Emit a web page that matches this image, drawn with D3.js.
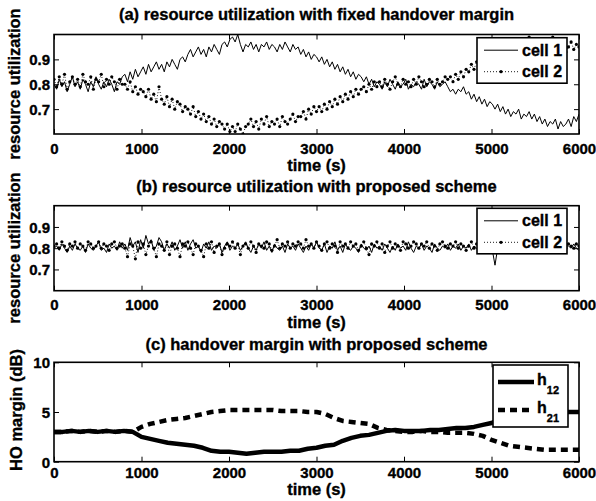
<!DOCTYPE html>
<html>
<head>
<meta charset="utf-8">
<script src="https://cdn.jsdelivr.net/npm/d3@7"></script>
<style>
  body { margin: 0; background: #fff; }
  text { font-family: "Liberation Sans", Arial, sans-serif; font-weight: bold; fill: #000;
    stroke: #000; stroke-width: 0.35px; }
  .tick-label { font-size: 15px; }
  .title, .axis-label { font-size: 16.5px; }
  .legend-label { font-size: 16px; }
</style>
</head>
<body>
<svg id="chart" width="596" height="501"></svg>
<script>
// Sample times (s).
var utilTimes = d3.range(0, 6001, 30);
var marginTimes = d3.range(0, 6001, 100);

// (a) fixed handover margin, utilization in %.
var fixedCell1 = [
  80,78,82,79,81,77,80,83,79,81,78,82,80,77,81,79,83,80,78,81,79,82,80,77,81,80,83,
  84,81,85,82,86,83,85,
  87,84,88,85,87,89,86,88,85,89,87,90,88,86,90,91,89,
  92,94,91,93,95,92,94,91,95,93,96,94,92,96,97,95,98,
  99,97,100,96,93,96,
  95,97,94,96,93,96,95,97,94,96,95,93,96,94,97,95,93,96,94,95,
  92,94,91,93,90,92,91,
  89,91,88,90,87,89,86,88,85,87,84,86,83,85,82,84,83,
  81,83,80,82,79,81,
  80,78,81,79,82,80,78,81,79,80,82,78,80,79,81,80,78,82,79,81,80,78,81,79,80,81,79,
  77,78,76,78,77,79,76,
  77,74,76,73,75,72,74,71,73,72,
  70,72,69,71,68,70,67,69,68,70,66,68,67,69,66,68,
  65,67,64,66,63,65,64,66,62,65,63,64,66,63,
  67,65,68
];
var fixedCell2 = [
  82,79,83,80,84,78,81,83,80,82,79,84,81,80,83,78,82,81,84,79,82,80,83,81,78,82,80,
  80,78,81,77,79,76,78,
  77,75,78,74,76,73,79,74,72,75,71,74,70,73,72,69,71,
  70,68,71,67,69,66,68,65,67,64,66,63,65,64,62,64,61,
  63,61,64,62,60,63,
  64,66,63,65,62,66,64,67,63,65,64,66,63,67,65,64,66,68,65,67,
  67,69,66,70,68,71,69,
  71,69,72,70,73,71,74,72,75,73,76,74,77,75,78,76,78,
  79,77,80,78,81,79,
  81,79,82,80,78,81,83,80,79,82,80,81,79,82,80,83,81,79,80,82,81,79,82,80,81,83,82,
  83,81,84,82,85,83,86,
  85,88,86,89,87,90,88,91,89,92,
  91,94,92,95,93,96,94,97,95,98,96,94,97,99,95,97,
  96,98,95,97,94,96,99,95,97,94,96,93,95,97,
  94,96,95
];

// (b) proposed scheme, utilization in %.
var proposedCell1 = [
  80,81,79,82,80,78,81,79,82,80,79,81,78,82,80,79,81,83,79,80,78,82,80,81,79,83,80,
  82,79,85,81,83,78,84,
  80,86,82,84,79,81,85,83,79,82,80,83,79,81,84,80,83,
  79,82,84,80,81,78,82,80,83,79,81,80,82,78,81,83,79,
  81,80,82,79,81,83,
  80,78,81,79,82,80,83,79,81,78,82,80,79,81,78,82,80,81,79,82,
  80,78,81,79,82,80,83,
  80,79,82,78,81,80,83,79,81,78,82,80,79,81,80,78,82,
  80,79,81,78,82,80,
  81,79,82,80,78,81,79,82,80,81,79,83,80,78,81,80,82,79,81,80,78,82,80,79,81,80,82,
  79,81,80,82,79,81,80,
  82,79,81,80,78,81,79,82,80,79,
  72,80,82,79,81,80,82,79,81,80,82,79,81,80,83,80,
  81,79,82,80,81,79,82,80,81,79,82,80,81,80,
  82,80,79
];
var proposedCell2 = [
  81,82,80,83,81,79,82,81,83,80,82,81,79,83,82,80,81,83,80,82,81,79,82,83,80,81,82,
  80,76,82,81,75,83,80,
  82,77,81,83,80,76,82,81,79,83,77,81,82,80,76,82,81,
  83,80,77,82,81,79,76,82,80,83,78,81,82,77,80,82,81,
  83,80,82,77,81,82,
  80,83,81,78,82,81,80,83,82,79,81,84,80,82,81,83,80,82,81,83,
  82,80,84,81,82,80,83,
  81,79,82,83,80,82,81,78,83,81,82,80,83,81,82,79,81,
  83,80,77,82,81,83,
  80,82,78,81,83,80,82,81,79,83,82,80,81,83,82,80,82,81,83,80,82,81,79,82,83,81,80,
  82,81,83,80,82,81,79,
  81,83,80,82,81,80,82,81,83,80,
  81,82,80,83,81,82,80,81,83,82,80,81,82,80,83,81,
  82,80,81,83,80,82,81,83,80,82,81,80,82,81,
  80,82,81
];

// (c) handover margins, dB.
var marginH12 = [
  3.0,3.0,3.1,3.0,3.1,3.0,3.1,3.0,3.1,3.0,
  2.5,2.3,2.1,1.9,1.8,1.7,1.6,1.4,1.1,1.0,
  1.0,0.9,0.8,0.9,1.0,1.0,1.0,1.1,1.1,1.3,
  1.4,1.6,1.7,2.1,2.4,2.6,2.7,2.9,3.1,3.2,
  3.1,3.1,3.1,3.2,3.2,3.3,3.4,3.4,3.5,3.7,
  3.9,4.3,4.6,4.8,4.9,5.0,5.0,5.0,5.0,5.0,
  5.0
];
var marginH21 = [
  3.0,3.0,3.1,3.0,3.1,3.0,3.1,3.0,3.1,3.0,
  3.5,3.8,4.0,4.2,4.3,4.4,4.6,4.8,5.0,5.1,
  5.2,5.2,5.2,5.2,5.2,5.2,5.1,5.1,5.1,5.0,
  5.0,4.8,4.4,4.1,4.0,3.9,3.8,3.4,3.2,3.1,
  3.0,3.0,3.1,3.0,3.0,2.9,2.9,2.9,2.8,2.6,
  2.2,1.9,1.6,1.5,1.4,1.3,1.2,1.2,1.2,1.2,
  1.2
];

var xTicks = [0, 1000, 2000, 3000, 4000, 5000, 6000];
var utilTicks = [0.7, 0.8, 0.9];
var marginTicks = [0, 5, 10];

var LEFT = 54;
var RIGHT = 579;
var svg = d3.select('#chart');

/**
 * Draws one series into the clipped plot group.
 */
function drawSeries(plot, x, y, s) {
  var pts = s.values.map(function(v, i) { return [s.times[i], v * s.scale]; });
  var line = d3.line()
    .x(function(d) { return x(d[0]); })
    .y(function(d) { return y(d[1]); });
  plot.append('path')
    .datum(pts)
    .attr('d', line)
    .attr('fill', 'none')
    .attr('stroke', '#000')
    .attr('stroke-width', s.width)
    .attr('stroke-dasharray', s.dash || null)
    .attr('stroke-linejoin', 'round');
  if (s.marker) {
    plot.append('g').selectAll('circle')
      .data(pts)
      .enter().append('circle')
      .attr('cx', function(d) { return x(d[0]); })
      .attr('cy', function(d) { return y(d[1]); })
      .attr('r', 1.6)
      .attr('fill', '#000');
  }
}

/**
 * Draws a legend sample line (with optional marker) and its label.
 */
function drawLegendEntry(g, lg, s, k) {
  var ly = lg.rows[k];
  g.append('line')
    .attr('x1', lg.x0).attr('x2', lg.x1)
    .attr('y1', ly).attr('y2', ly)
    .attr('stroke', '#000')
    .attr('stroke-width', s.width)
    .attr('stroke-dasharray', s.legendDash || s.dash || null);
  if (s.marker) {
    g.append('circle')
      .attr('cx', (lg.x0 + lg.x1) / 2).attr('cy', ly)
      .attr('r', 1.6).attr('fill', '#000');
  }
  var t = g.append('text')
    .attr('class', 'legend-label')
    .attr('x', lg.textX)
    .attr('y', ly + 5.5)
    .text(s.name);
  if (s.sub) {
    t.attr('y', ly + 3);
    t.append('tspan')
      .attr('dy', 8.5)
      .style('font-size', '11px')
      .text(s.sub);
  }
}

/**
 * Draws one panel: traces, boxed axes with inner ticks, labels and legend.
 */
function drawPanel(p) {
  var x = d3.scaleLinear().domain([0, 6000]).range([LEFT, RIGHT]);
  var y = d3.scaleLinear().domain(p.yDomain).range([p.bottom, p.top]);
  var g = svg.append('g');

  var clipId = 'clip-' + p.id;
  g.append('clipPath').attr('id', clipId).append('rect')
    .attr('x', LEFT).attr('y', p.top)
    .attr('width', RIGHT - LEFT).attr('height', p.bottom - p.top);
  var plot = g.append('g').attr('clip-path', 'url(#' + clipId + ')');
  p.series.forEach(function(s) { drawSeries(plot, x, y, s); });

  // axes, ticks pointing inward on all four sides
  var bottomAxis = g.append('g')
    .attr('transform', 'translate(0,' + p.bottom + ')')
    .call(d3.axisBottom(x).tickValues(xTicks).tickSize(-5)
      .tickFormat(d3.format('d')));
  bottomAxis.selectAll('text')
    .attr('class', 'tick-label')
    .attr('y', p.tickBase - p.bottom)
    .attr('dy', null);
  g.append('g')
    .attr('transform', 'translate(0,' + p.top + ')')
    .call(d3.axisTop(x).tickValues(xTicks).tickSize(-5).tickFormat(''));
  var leftAxis = g.append('g')
    .attr('transform', 'translate(' + LEFT + ',0)')
    .call(d3.axisLeft(y).tickValues(p.yTicks).tickSize(-5).tickPadding(4)
      .tickFormat(p.yFormat));
  leftAxis.selectAll('text')
    .attr('class', 'tick-label')
    .attr('dy', '0.36em');
  g.append('g')
    .attr('transform', 'translate(' + RIGHT + ',0)')
    .call(d3.axisRight(y).tickValues(p.yTicks).tickSize(-5).tickFormat(''));
  g.selectAll('.domain').remove();
  g.selectAll('g').attr('font-family', null).attr('font-size', null);
  g.selectAll('.tick line').attr('stroke-width', 1);

  g.append('rect')
    .attr('x', LEFT).attr('y', p.top)
    .attr('width', RIGHT - LEFT).attr('height', p.bottom - p.top)
    .attr('fill', 'none').attr('stroke', '#000').attr('stroke-width', 1.6);

  g.append('text')
    .attr('class', 'title')
    .attr('x', (LEFT + RIGHT) / 2).attr('y', p.titleBase)
    .attr('text-anchor', 'middle')
    .text(p.title);
  g.append('text')
    .attr('class', 'axis-label')
    .attr('x', (LEFT + RIGHT) / 2).attr('y', p.xlabelBase)
    .attr('text-anchor', 'middle')
    .text('time (s)');
  g.append('text')
    .attr('class', 'axis-label')
    .attr('transform', 'translate(' + p.ylabelX + ',' + p.ylabelY + ') rotate(-90)')
    .attr('text-anchor', 'middle')
    .text(p.ylabel);

  // legend
  var lg = p.legend;
  g.append('rect')
    .attr('x', lg.x).attr('y', lg.y)
    .attr('width', lg.w).attr('height', lg.h)
    .attr('fill', '#fff').attr('stroke', '#000').attr('stroke-width', 1.6);
  p.series.forEach(function(s, k) { drawLegendEntry(g, lg, s, k); });
}

var utilLegend = function(top) {
  return {x: 477, y: top, w: 90, h: 45.5, x0: 484, x1: 518, textX: 522,
    rows: [top + 12.5, top + 34]};
};

drawPanel({
  id: 'a', top: 34.5, bottom: 134, yDomain: [0.6, 1.0], yTicks: utilTicks,
  yFormat: d3.format('.1f'),
  title: '(a) resource utilization with fixed handover margin',
  titleBase: 20, tickBase: 154, xlabelBase: 171,
  ylabel: 'resource utilization', ylabelX: 20, ylabelY: 84,
  legend: utilLegend(37.7),
  series: [
    {name: 'cell 1', times: utilTimes, values: fixedCell1, scale: 0.01, width: 1},
    {name: 'cell 2', times: utilTimes, values: fixedCell2, scale: 0.01, width: 0.9,
      dash: '1,2', marker: true}
  ]
});

drawPanel({
  id: 'b', top: 205.7, bottom: 290.7, yDomain: [0.6, 1.0], yTicks: utilTicks,
  yFormat: d3.format('.1f'),
  title: '(b) resource utilization with proposed scheme',
  titleBase: 192, tickBase: 310.5, xlabelBase: 327.5,
  ylabel: 'resource utilization', ylabelX: 20, ylabelY: 248,
  legend: utilLegend(208.3),
  series: [
    {name: 'cell 1', times: utilTimes, values: proposedCell1, scale: 0.01, width: 1},
    {name: 'cell 2', times: utilTimes, values: proposedCell2, scale: 0.01, width: 0.9,
      dash: '1,2', marker: true}
  ]
});

drawPanel({
  id: 'c', top: 362.3, bottom: 461.7, yDomain: [0, 10], yTicks: marginTicks,
  yFormat: d3.format('d'),
  title: '(c) handover margin with proposed scheme',
  titleBase: 350, tickBase: 478, xlabelBase: 495,
  ylabel: 'HO margin (dB)', ylabelX: 22, ylabelY: 410,
  legend: {x: 493, y: 365, w: 75, h: 62, x0: 498, x1: 534, textX: 537,
    rows: [382, 410]},
  series: [
    {name: 'h', sub: '12', times: marginTimes, values: marginH12, scale: 1, width: 4.5},
    {name: 'h', sub: '21', times: marginTimes, values: marginH21, scale: 1, width: 4.5,
      dash: '7,5', legendDash: '7,5'}
  ]
});
</script>
</body>
</html>
